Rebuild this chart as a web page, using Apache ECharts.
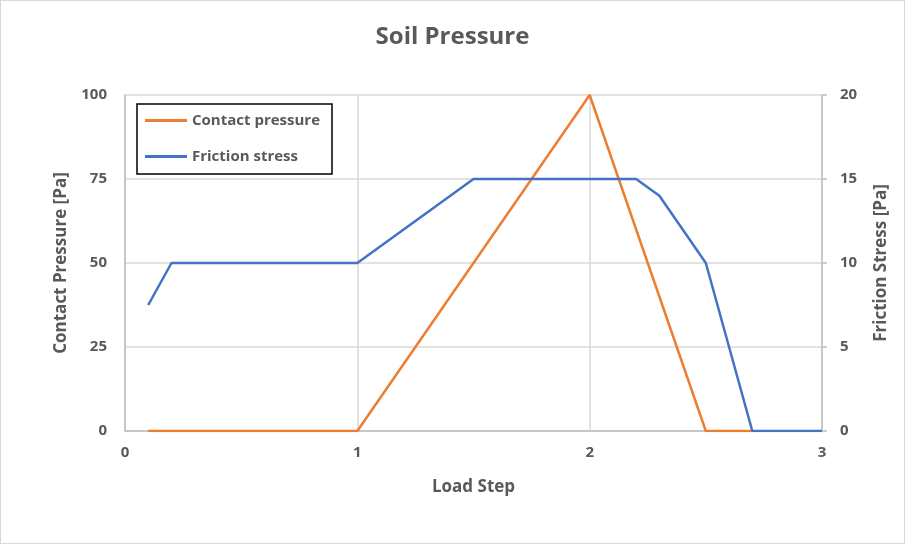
<!DOCTYPE html>
<html><head><meta charset="utf-8">
<script src="https://cdn.jsdelivr.net/npm/echarts@6/dist/echarts.min.js"></script>
<style>html,body{margin:0;padding:0;background:#fff}#c{width:905px;height:544px;box-sizing:border-box;border:1px solid #d9d9d9}</style>
</head><body><div id="c"></div>
<script>
const contactX = [0.1, 1, 2, 2.5, 2.7];
const contactY = [0, 0, 100, 0, 0];
const frictionX = [0.1, 0.2, 1, 1.5, 2.2, 2.3, 2.5, 2.7, 3];
const frictionY = [7.5, 10, 10, 15, 15, 14, 10, 0, 0];
const xTicks = [0, 1, 2, 3];

const chart = echarts.init(document.getElementById('c'));
const font = 'Open Sans';
const grey = '#595959';
chart.setOption({
  animation: false,
  textStyle: {fontFamily: font},
  title: {text: 'Soil Pressure', left: 'center', top: 19,
    textStyle: {fontFamily: font, fontSize: 24, fontWeight: 'bold', color: grey}},
  legend: {
    left: 136, top: 103, orient: 'vertical',
    borderColor: '#000', borderWidth: 1.5, padding: [9, 12, 10, 8],
    itemGap: 21, itemWidth: 42, itemHeight: 3, icon: 'rect',
    textStyle: {fontFamily: font, fontSize: 15, fontWeight: 'bold', color: grey, padding: [0,0,0,0]},
    data: ['Contact pressure', 'Friction stress']
  },
  grid: {left: 124, right: 82, top: 94, bottom: 112},
  xAxis: {type: 'value', min: 0, max: 3, interval: 1,
    name: 'Load Step', nameLocation: 'middle', nameGap: 48,
    nameTextStyle: {fontSize: 17, fontWeight: 'bold', color: grey},
    axisLine: {show: true, onZero: false, lineStyle: {color: '#bfbfbf', width: 1.5}},
    axisTick: {show: false},
    axisLabel: {fontSize: 15, fontWeight: 'bold', color: grey, margin: 14,
      formatter: v => xTicks.includes(v) ? String(v) : ''},
    splitLine: {show: true, lineStyle: {color: '#d9d9d9', width: 1.5}}
  },
  yAxis: [
    {type: 'value', min: 0, max: 100, interval: 25, position: 'left',
     name: 'Contact Pressure [Pa]', nameLocation: 'middle', nameGap: 55, nameRotate: 90,
     nameTextStyle: {fontSize: 17, fontWeight: 'bold', color: grey},
     axisLine: {show: true, lineStyle: {color: '#bfbfbf', width: 1.5}},
     axisTick: {show: false},
     axisLabel: {fontSize: 15, fontWeight: 'bold', color: grey, margin: 18},
     splitLine: {show: true, lineStyle: {color: '#d9d9d9', width: 1.5}}},
    {type: 'value', min: 0, max: 20, interval: 5, position: 'right',
     name: 'Friction Stress [Pa]', nameLocation: 'middle', nameGap: 51, nameRotate: 90,
     nameTextStyle: {fontSize: 17, fontWeight: 'bold', color: grey},
     axisLine: {show: true, lineStyle: {color: '#bfbfbf', width: 1.5}},
     axisTick: {show: true, inside: false, length: 5, lineStyle: {color: '#bfbfbf', width: 1.5}},
     axisLabel: {fontSize: 15, fontWeight: 'bold', color: grey, margin: 18},
     splitLine: {show: false}}
  ],
  series: [
    {name: 'Contact pressure', type: 'line', yAxisIndex: 0, showSymbol: false, symbol: 'none',
     color: '#ed7d31', lineStyle: {width: 2.5, color: '#ed7d31'},
     data: contactX.map((x, i) => [x, contactY[i]])},
    {name: 'Friction stress', type: 'line', yAxisIndex: 1, showSymbol: false, symbol: 'none',
     color: '#4472c4', lineStyle: {width: 2.5, color: '#4472c4'},
     data: frictionX.map((x, i) => [x, frictionY[i]])}
  ]
});
</script></body></html>
